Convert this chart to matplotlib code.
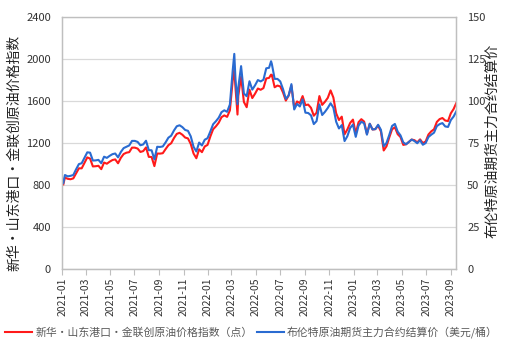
import matplotlib
matplotlib.use('Agg')
import matplotlib.pyplot as plt
import matplotlib.dates as mdates
import pandas as pd

plt.rcParams['font.family'] = ['Noto Sans CJK SC', 'DejaVu Sans']

# weekly (Friday) readings, 2021-01-08 .. 2023-09-15
week_dates = pd.date_range('2021-01-08', '2023-09-15', freq='W-FRI')

brent_2021 = [55.9, 55.1, 55.4, 55.9, 59.3, 62.4, 62.9, 66.1, 69.4, 69.2, 64.5, 64.6,
              64.9, 62.9, 66.8, 66.1, 67.3, 68.3, 68.7, 66.4, 69.6, 71.9, 72.7, 73.5,
              76.2, 76.2, 75.6, 73.6, 74.1, 76.3, 70.7, 70.6, 65.2, 72.7, 72.6, 72.9,
              75.3, 78.1, 79.3, 82.4, 84.9, 85.5, 84.4, 82.7, 82.2, 78.9, 72.7, 69.9,
              75.2, 73.5, 76.9, 77.8]
brent_2022 = [81.8, 86.1, 87.9, 90.0, 93.3, 94.4, 93.5, 97.9, 118.1, 112.7, 108.0, 120.7,
              104.4, 102.8, 111.7, 106.7, 109.3, 112.4, 111.6, 112.6, 119.4, 119.7, 122.0, 113.1,
              113.1, 111.6, 107.0, 101.2, 103.2, 110.0, 94.9, 98.2, 96.7, 100.9, 93.0, 92.8,
              91.4, 86.2, 88.0, 97.9, 91.6, 93.5, 95.8, 98.6, 96.0, 87.6, 83.6, 85.6,
              76.1, 79.0, 83.9, 85.9]
brent_2023 = [78.6, 85.3, 87.6, 86.7, 79.9, 86.4, 83.0, 83.2, 85.8, 82.8, 73.0, 75.0,
              79.8, 85.1, 86.3, 81.7, 79.5, 75.3, 74.2, 75.6, 77.0, 76.1, 74.8, 76.6,
              73.9, 74.9, 78.5, 79.9, 81.1, 85.0, 86.2, 86.8, 84.8, 84.5, 88.6, 90.7,
              93.9]

index_2021 = [870, 858, 854, 862, 909, 958, 958, 1010, 1062, 1051, 976, 978,
              982, 950, 1013, 1002, 1021, 1037, 1043, 1006, 1058, 1094, 1107, 1112,
              1155, 1155, 1146, 1114, 1122, 1157, 1067, 1066, 979, 1099, 1098, 1102,
              1141, 1178, 1197, 1246, 1286, 1296, 1278, 1251, 1243, 1190, 1099, 1054,
              1139, 1112, 1166, 1181]
index_2022 = [1261, 1330, 1358, 1392, 1445, 1462, 1448, 1510, 1794, 1723, 1648, 1830,
              1590, 1540, 1707, 1627, 1669, 1718, 1706, 1722, 1814, 1819, 1848, 1730,
              1746, 1738, 1680, 1603, 1651, 1744, 1534, 1595, 1579, 1646, 1560, 1565,
              1534, 1459, 1488, 1646, 1562, 1592, 1629, 1700, 1632, 1482, 1418, 1450,
              1282, 1328, 1390, 1422]
index_2023 = [1290, 1397, 1426, 1403, 1286, 1382, 1328, 1331, 1365, 1309, 1128, 1168,
              1253, 1330, 1349, 1283, 1256, 1181, 1187, 1210, 1232, 1226, 1205, 1234,
              1198, 1214, 1280, 1310, 1330, 1400, 1427, 1437, 1413, 1408, 1482, 1523,
              1582]

# extra daily points (start, March 2022 spike, June 2022 peak)
extra_dates = ['2021-01-04', '2022-03-08', '2022-03-16', '2022-06-08']
extra_brent = [51.1, 128.0, 98.0, 123.6]
extra_index = [805, 1900, 1470, 1850]

brent = pd.Series(brent_2021 + brent_2022 + brent_2023, index=week_dates)
brent = pd.concat([brent, pd.Series(extra_brent, index=pd.to_datetime(extra_dates))]).sort_index()
index = pd.Series(index_2021 + index_2022 + index_2023, index=week_dates)
index = pd.concat([index, pd.Series(extra_index, index=pd.to_datetime(extra_dates))]).sort_index()

left_label = '新华・山东港口・金联创原油价格指数'
right_label = '布伦特原油期货主力合约结算价'
legend_labels = ['新华・山东港口・金联创原油价格指数（点）', '布伦特原油期货主力合约结算价（美元/桶）']

fig = plt.figure(figsize=(5.05, 3.52), dpi=100)
ax = fig.add_axes([0.123, 0.236, 0.780, 0.716])
ax2 = ax.twinx()

l1, = ax.plot(index.index, index.values, color='#ff1a1a', lw=1.5)
l2, = ax2.plot(brent.index, brent.values, color='#2a6bd1', lw=1.5)

ax.set_ylim(0, 2400)
ax.set_yticks(range(0, 2401, 400))
ax2.set_ylim(0, 150)
ax2.set_yticks(range(0, 151, 25))
ax.set_xlim(pd.Timestamp('2021-01-01'), pd.Timestamp('2023-09-14'))

ax.xaxis.set_major_locator(mdates.MonthLocator(bymonth=[1, 3, 5, 7, 9, 11]))
ax.xaxis.set_major_formatter(mdates.DateFormatter('%Y-%m'))
plt.setp(ax.get_xticklabels(), rotation=90)

ax.grid(axis='y', color='#d9d9d9', lw=0.9)
ax.set_axisbelow(True)
for a in (ax, ax2):
    for s in a.spines.values():
        s.set_color('#bfbfbf')
        s.set_linewidth(0.9)
ax.spines['top'].set_color('#d9d9d9')

ax.tick_params(axis='x', length=4, color='#bfbfbf', labelsize=7.5, labelcolor='#333333', pad=2)
ax.tick_params(axis='y', length=0, labelsize=8, labelcolor='#333333', pad=8)
ax2.tick_params(axis='y', length=0, labelsize=8, labelcolor='#333333', pad=8)

fig.text(0.028, 0.565, left_label, rotation=90, ha='center', va='center', fontsize=10, color='#222222')
fig.text(0.976, 0.600, right_label, rotation=90, ha='center', va='center', fontsize=10, color='#222222')

fig.legend([l1, l2], legend_labels, loc='center', bbox_to_anchor=(0.498, 0.057), ncol=2,
           frameon=False, fontsize=7.8, handlelength=2.5, handletextpad=0.3, columnspacing=0.4,
           labelcolor='#595959')

fig.savefig('out.png', dpi=100)
